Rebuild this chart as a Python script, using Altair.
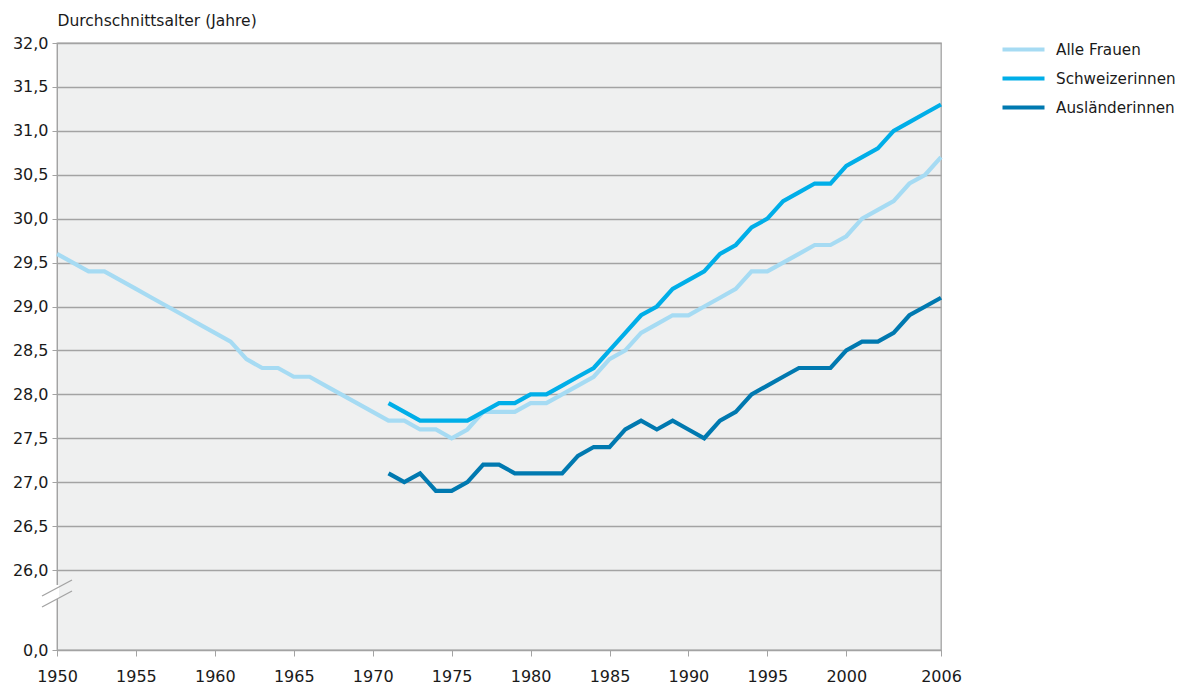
import altair as alt
import pandas as pd

# ---- data ----
years_all = list(range(1950, 2007))
alle_frauen = [
    29.6, 29.5, 29.4, 29.4, 29.3, 29.2, 29.1, 29.0, 28.9, 28.8,
    28.7, 28.6, 28.4, 28.3, 28.3, 28.2, 28.2, 28.1, 28.0, 27.9,
    27.8, 27.7, 27.7, 27.6, 27.6, 27.5, 27.6, 27.8, 27.8, 27.8,
    27.9, 27.9, 28.0, 28.1, 28.2, 28.4, 28.5, 28.7, 28.8, 28.9,
    28.9, 29.0, 29.1, 29.2, 29.4, 29.4, 29.5, 29.6, 29.7, 29.7,
    29.8, 30.0, 30.1, 30.2, 30.4, 30.5, 30.7,
]
years_sub = list(range(1971, 2007))
schweizerinnen = [
    27.9, 27.8, 27.7, 27.7, 27.7, 27.7, 27.8, 27.9, 27.9,
    28.0, 28.0, 28.1, 28.2, 28.3, 28.5, 28.7, 28.9, 29.0, 29.2,
    29.3, 29.4, 29.6, 29.7, 29.9, 30.0, 30.2, 30.3, 30.4, 30.4,
    30.6, 30.7, 30.8, 31.0, 31.1, 31.2, 31.3,
]
auslaenderinnen = [
    27.1, 27.0, 27.1, 26.9, 26.9, 27.0, 27.2, 27.2, 27.1,
    27.1, 27.1, 27.1, 27.3, 27.4, 27.4, 27.6, 27.7, 27.6, 27.7,
    27.6, 27.5, 27.7, 27.8, 28.0, 28.1, 28.2, 28.3, 28.3, 28.3,
    28.5, 28.6, 28.6, 28.7, 28.9, 29.0, 29.1,
]
series_names = ["Alle Frauen", "Schweizerinnen", "Ausländerinnen"]
series_colors = ["#a6dbf3", "#00aee8", "#0079b0"]
x_ticks = [1950, 1955, 1960, 1965, 1970, 1975, 1980, 1985, 1990, 1995, 2000, 2006]
y_ticks = [0, 26, 26.5, 27, 27.5, 28, 28.5, 29, 29.5, 30, 30.5, 31, 31.5, 32]
y_title = "Durchschnittsalter (Jahre)"

rows = []
for y, v in zip(years_all, alle_frauen):
    rows.append({"Jahr": y, "Alter": v, "Gruppe": series_names[0]})
for y, v in zip(years_sub, schweizerinnen):
    rows.append({"Jahr": y, "Alter": v, "Gruppe": series_names[1]})
for y, v in zip(years_sub, auslaenderinnen):
    rows.append({"Jahr": y, "Alter": v, "Gruppe": series_names[2]})
df = pd.DataFrame(rows)

W, H = 884, 607
FONT = "DejaVu Sans"
GREY = "#a3a3a3"
BG = "#eff0f0"
TXT = "#1a1a1a"

lines = alt.Chart(df).mark_line(strokeWidth=4.2, strokeJoin="miter").encode(
    x=alt.X("Jahr:Q",
            scale=alt.Scale(domain=[1950, 2006], nice=False, zero=False),
            axis=alt.Axis(values=x_ticks, format="d", title=None, grid=False,
                          tickSize=6, tickColor=GREY, domainColor=GREY,
                          labelFontSize=16, labelColor=TXT, labelPadding=12,
                          labelFlush=False, labelOverlap=False,
                          labelFont=FONT)),
    y=alt.Y("Alter:Q",
            scale=alt.Scale(domain=[0, 26, 32], range=[H, 527, 0], nice=False, zero=False),
            axis=alt.Axis(values=y_ticks, format=".1f",
                          labelExpr="replace(datum.label, '.', ',')",
                          title=y_title, titleAngle=0, titleX=0, titleY=-15,
                          titleAlign="left", titleBaseline="bottom",
                          titleFontSize=15.5, titleFontWeight="normal", titleColor=TXT,
                          titleFont=FONT,
                          grid=True, gridColor=GREY, gridWidth=1.3,
                          tickSize=5, tickColor=GREY, domainColor=GREY,
                          labelFontSize=16, labelColor=TXT, labelPadding=4,
                          labelFlush=False, labelOverlap=False,
                          labelFont=FONT)),
    color=alt.Color("Gruppe:N",
                    scale=alt.Scale(domain=series_names, range=series_colors),
                    sort=series_names,
                    legend=alt.Legend(title=None, orient="none", legendX=957, legendY=-3,
                                      symbolType="M-3,0H3", symbolSize=196,
                                      symbolStrokeWidth=4.2, labelOffset=23,
                                      labelFontSize=15.2, labelColor=TXT,
                                      labelFont=FONT, rowPadding=11, padding=0)),
)

deco_df = pd.DataFrame({"k": [0]})
mask = alt.Chart(deco_df).mark_rect(color="white").encode(
    x=alt.value(-2), x2=alt.value(2), y=alt.value(542), y2=alt.value(556))
slash1 = alt.Chart(deco_df).mark_rule(color=GREY, strokeWidth=1.3).encode(
    x=alt.value(-15), x2=alt.value(15), y=alt.value(553), y2=alt.value(537))
slash2 = alt.Chart(deco_df).mark_rule(color=GREY, strokeWidth=1.3).encode(
    x=alt.value(-15), x2=alt.value(15), y=alt.value(564), y2=alt.value(548))

chart = alt.layer(lines, mask, slash1, slash2).properties(
    width=W, height=H,
    autosize=alt.AutoSizeParams(type="none"),
    padding={"left": 49, "top": 35, "right": 238, "bottom": 38},
    background="white",
).configure_view(fill=BG, stroke=GREY, strokeWidth=1.3)

chart.save("out.html", embed_options={"renderer": "svg", "actions": False})
